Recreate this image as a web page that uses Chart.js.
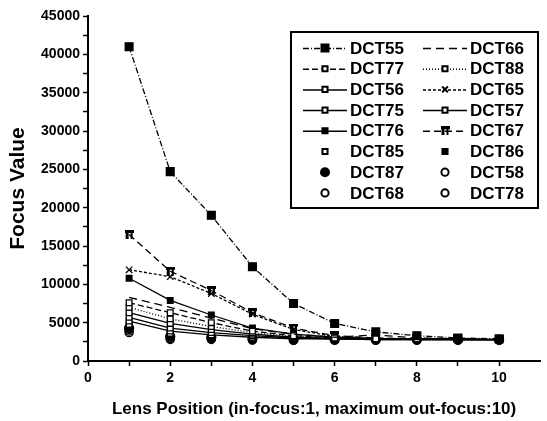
<!DOCTYPE html>
<html>
<head>
<meta charset="utf-8">
<script src="https://cdn.jsdelivr.net/npm/chart.js@4.4.0/dist/chart.umd.min.js"></script>
<style>
  html, body { margin: 0; padding: 0; background: #fff; }
  #wrap { width: 547px; height: 421px; }
</style>
</head>
<body>
<div id="wrap"><canvas id="c" width="547" height="421"></canvas></div>
<script>
// ---- data ----
const lensPositions = [1, 2, 3, 4, 5, 6, 7, 8, 9, 10];
const seriesNames = ["DCT55", "DCT66", "DCT77", "DCT88", "DCT56", "DCT65", "DCT75", "DCT57",
                     "DCT76", "DCT67", "DCT85", "DCT86", "DCT87", "DCT58", "DCT68", "DCT78"];
const DCT55 = [41000, 24700, 19000, 12300, 7500, 4900, 3800, 3300, 3000, 2900];
const DCT66 = [8300, 7000, 5600, 4200, 3500, 3100, 3400, 3000, 2900, 2800];
const DCT77 = [7600, 6300, 5000, 3900, 3300, 3000, 2900, 2900, 2800, 2800];
const DCT88 = [7000, 5500, 4500, 3700, 3200, 3000, 2900, 2800, 2800, 2800];
const DCT56 = [6300, 4900, 4100, 3500, 3100, 2900, 2900, 2800, 2800, 2800];
const DCT65 = [11900, 11000, 8800, 6100, 4100, 3200, 2900, 2900, 2800, 2800];
const DCT75 = [5700, 4300, 3700, 3300, 3000, 2900, 2800, 2800, 2800, 2800];
const DCT57 = [5200, 3900, 3400, 3100, 2900, 2900, 2800, 2800, 2800, 2800];
const DCT76 = [10800, 7900, 6000, 4300, 3500, 3100, 2900, 2900, 2800, 2800];
const DCT67 = [16500, 11700, 9200, 6300, 4300, 3300, 3000, 2900, 2900, 2800];
const DCT85 = [4800, 3600, 3300, 3000, 2900, 2800, 2800, 2800, 2800, 2800];
const DCT86 = [4500, 3400, 3200, 2900, 2900, 2800, 2800, 2800, 2800, 2800];
const DCT87 = [4300, 3200, 3100, 2900, 2800, 2800, 2800, 2800, 2800, 2800];
const DCT58 = [4100, 3000, 3000, 2800, 2800, 2800, 2800, 2800, 2800, 2800];
const DCT68 = [3900, 2900, 2900, 2800, 2700, 2800, 2700, 2800, 2800, 2700];
const DCT78 = [3700, 2800, 2800, 2700, 2700, 2700, 2700, 2700, 2700, 2700];
const seriesValues = [DCT55, DCT66, DCT77, DCT88, DCT56, DCT65, DCT75, DCT57,
                      DCT76, DCT67, DCT85, DCT86, DCT87, DCT58, DCT68, DCT78];
const yTicksMajor = [0, 5000, 10000, 15000, 20000, 25000, 30000, 35000, 40000, 45000];
const xTicksMajor = [0, 2, 4, 6, 8, 10];

// ---- styles ----
function tMarker() {
  const c = document.createElement('canvas');
  c.width = 9; c.height = 9;
  const g = c.getContext('2d');
  g.fillStyle = '#000';
  g.fillRect(0, 0, 9, 3);
  g.fillRect(1, 0, 3, 9);
  g.fillRect(6, 0, 2, 9);
  return c;
}
const T = tMarker();
const styles = [
  { dash: [6, 2, 1, 2], ps: 'rect', r: 5.5, fill: '#000', line: true },
  { dash: [8, 5], ps: 'circle', r: 0, fill: '#000', line: true },
  { dash: [6, 3], ps: 'rect', r: 4, fill: '#fff', line: true },
  { dash: [1, 2], ps: 'rect', r: 4, fill: '#fff', line: true },
  { dash: [], ps: 'rect', r: 4, fill: '#fff', line: true },
  { dash: [3, 2], ps: 'crossRot', r: 4.5, fill: '#fff', line: true },
  { dash: [], ps: 'rect', r: 4, fill: '#fff', line: true },
  { dash: [], ps: 'rect', r: 4, fill: '#fff', line: true },
  { dash: [], ps: 'rect', r: 4, fill: '#000', line: true },
  { dash: [7, 4], ps: T, r: 4.5, fill: '#000', line: true },
  { dash: [], ps: 'rect', r: 4, fill: '#fff', line: false },
  { dash: [], ps: 'rect', r: 4, fill: '#000', line: false },
  { dash: [], ps: 'circle', r: 4.5, fill: '#000', line: false },
  { dash: [], ps: 'circle', r: 4, fill: '#fff', line: false },
  { dash: [], ps: 'circle', r: 4, fill: '#fff', line: false },
  { dash: [], ps: 'circle', r: 4, fill: '#fff', line: false }
];

const datasets = seriesNames.map((name, i) => ({
  label: name,
  data: lensPositions.map((x, k) => ({ x: x, y: seriesValues[i][k] })),
  showLine: styles[i].line,
  borderColor: '#000',
  borderWidth: 1.3,
  borderDash: styles[i].dash,
  backgroundColor: styles[i].fill,
  pointStyle: styles[i].ps,
  pointRadius: styles[i].r,
  pointBorderWidth: 1.3,
  pointBorderColor: '#000',
  pointBackgroundColor: styles[i].fill,
  tension: 0,
  fill: false
}));

const FONT = "'Liberation Sans', Arial, sans-serif";

const legendPlugin = {
  id: 'boxLegend',
  afterDraw(chart) {
    const ctx = chart.ctx;
    const left = 291, top = 32, right = 538, bottom = 208;
    ctx.save();
    ctx.strokeStyle = '#000';
    ctx.lineWidth = 2;
    ctx.strokeRect(left, top, right - left, bottom - top);
    const rowH = 20.7, y0 = 48;
    const cols = [{ l0: 303, l1: 347, tx: 350 }, { l0: 423, l1: 467, tx: 470 }];
    chart.data.datasets.forEach((ds, i) => {
      const c = cols[i % 2];
      const y = y0 + Math.floor(i / 2) * rowH;
      const mx = (c.l0 + c.l1) / 2;
      if (ds.showLine) {
        ctx.save();
        ctx.strokeStyle = '#000';
        ctx.lineWidth = 1.5;
        ctx.setLineDash(ds.borderDash && ds.borderDash.length ? ds.borderDash : []);
        ctx.beginPath();
        ctx.moveTo(c.l0, y + 0.5);
        ctx.lineTo(c.l1, y + 0.5);
        ctx.stroke();
        ctx.restore();
      }
      if (ds.pointRadius > 0) {
        ctx.save();
        ctx.fillStyle = ds.pointBackgroundColor;
        ctx.strokeStyle = '#000';
        ctx.setLineDash([]);
        Chart.helpers.drawPoint(ctx, {
          pointStyle: ds.pointStyle,
          rotation: 0,
          borderWidth: 1.3,
          radius: ds.pointRadius * 0.9
        }, mx, y);
        ctx.restore();
      }
      ctx.fillStyle = '#000';
      ctx.font = 'bold 17px ' + FONT;
      ctx.textBaseline = 'middle';
      ctx.textAlign = 'left';
      ctx.fillText(ds.label, c.tx, y + 1);
    });
    ctx.restore();
  }
};

new Chart(document.getElementById('c'), {
  type: 'scatter',
  data: { datasets: datasets },
  plugins: [legendPlugin],
  options: {
    responsive: false,
    animation: false,
    devicePixelRatio: 1,
    layout: { padding: { top: 16, right: 0, left: 0, bottom: 0 } },
    plugins: { legend: { display: false }, tooltip: { enabled: false } },
    scales: {
      x: {
        type: 'linear',
        min: 0,
        max: 11,
        border: { color: '#000', width: 2 },
        grid: { drawOnChartArea: false, color: '#000', tickLength: 5, tickWidth: 1.5 },
        afterBuildTicks(scale) {
          const t = [];
          for (let v = 0; v <= 10; v++) t.push({ value: v });
          scale.ticks = t;
        },
        afterFit(scale) { scale.height = 60; },
        ticks: {
          color: '#000',
          font: { family: FONT, size: 14, weight: 'bold' },
          padding: 4,
          maxRotation: 0,
          autoSkip: false,
          callback: (v) => xTicksMajor.includes(v) ? String(v) : ''
        },
        title: {
          display: true,
          text: 'Lens Position (in-focus:1, maximum out-focus:10)',
          color: '#000',
          font: { family: FONT, size: 17, weight: 'bold' },
          padding: { top: 0, bottom: 1 }
        }
      },
      y: {
        type: 'linear',
        min: 0,
        max: 45000,
        border: { color: '#000', width: 2 },
        grid: { drawOnChartArea: false, color: '#000', tickLength: 5, tickWidth: 1.5 },
        afterBuildTicks(scale) {
          const t = [];
          for (let v = 0; v <= 45000; v += 2500) t.push({ value: v });
          scale.ticks = t;
        },
        afterFit(scale) { scale.width = 88; },
        ticks: {
          color: '#000',
          font: { family: FONT, size: 14, weight: 'bold' },
          padding: 3,
          autoSkip: false,
          callback: (v) => yTicksMajor.includes(v) ? String(v) : ''
        },
        title: {
          display: true,
          text: 'Focus Value',
          color: '#000',
          font: { family: FONT, size: 21, weight: 'bold' },
          padding: { top: 6, bottom: 0 }
        }
      }
    }
  }
});
</script>
</body>
</html>
